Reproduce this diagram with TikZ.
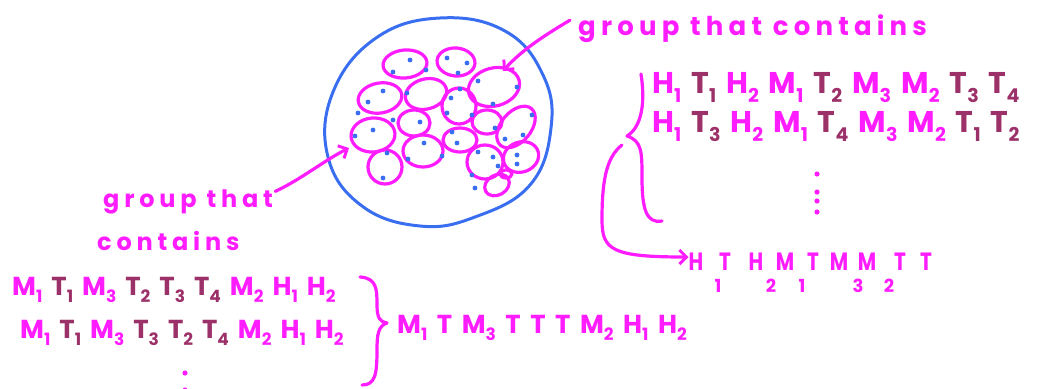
\documentclass[tikz,border=0pt]{standalone}
\usepackage{fontspec}
\setmainfont{Poppins}
\usetikzlibrary{arrows.meta}
\definecolor{InkPink}{HTML}{FF1CFF}
\definecolor{InkPlum}{HTML}{9C3068}
\definecolor{InkBlue}{HTML}{3A6EF0}
% one letter with its index
\newcommand\tok[3]{\textcolor{#1}{#2\raisebox{-0.3em}{\subsize #3}}\hspace{\tokgap}}

\begin{document}
\begin{tikzpicture}[x=1pt, y=-1pt,
    ink/.style={draw=InkPink, line width=3.2pt, line cap=round, line join=round},
    arr/.style={ink, -{Straight Barb[length=7pt, width=14pt, line width=3pt]}},
    bag/.style={draw=InkBlue, line width=3pt},
    dot/.style={fill=InkBlue, draw=none},
    note/.style={text=InkPink, font=\fontsize{24}{24}\selectfont\bfseries\addfontfeatures{LetterSpace=20}, inner sep=0pt, anchor=base west},
    seq/.style={font=\fontsize{30}{30}\selectfont\bfseries\def\subsize{\fontsize{19}{19}\selectfont}\def\tokgap{10pt}, inner sep=0pt, anchor=base west},
    seqs/.style={font=\fontsize{26}{26}\selectfont\bfseries\def\subsize{\fontsize{17}{17}\selectfont}\def\tokgap{9pt}, inner sep=0pt, anchor=base west},
    lone/.style={text=InkPink, font=\fontsize{25}{25}\selectfont\bfseries, inner sep=0pt, anchor=base},
    sub/.style={text=InkPink, font=\fontsize{18}{18}\selectfont\bfseries, inner sep=0pt, anchor=base}
]
  \useasboundingbox (0,0) rectangle (1043,388);

  % the big group
  \draw[bag] plot[smooth cycle, tension=0.7] coordinates {(440,18) (505,31) (543,75)
      (551,128) (530,185) (475,217) (420,226) (362,206) (328,157) (333,92) (376,38)};
  \foreach \cx/\cy/\rx/\ry/\a in {405/64/22/14/5, 456/62/19/14/-5, 494/87/26/19/15,
      380/98/22/15/10, 426/94/21/15/15, 459/106/17/18/0, 414/123/16/13/0,
      373/135/22/17/5, 487/122/15/12/0, 516/127/24/15/50, 460/140/17/12/0,
      423/151/20/16/0, 385/167/17/17/0, 485/162/18/17/0, 521/157/18/15/20,
      497/185/13/10/30, 506/174/6/4/0}
    \draw[ink, rotate around={\a:(\cx,\cy)}] (\cx,\cy) ellipse [x radius=\rx pt, y radius=\ry pt];
  \foreach \x/\y in {410/60, 393/72, 426/70, 447/58, 467/63, 458/73, 478/81, 517/87,
      493/104, 383/91, 368/102, 407/93, 358/113, 393/120, 373/130, 355/136, 420/122,
      451/98, 460/89, 447/113, 472/115, 495/128, 532/115, 523/135, 505/139, 452/132,
      457/143, 424/143, 442/156, 408/159, 387/153, 383/178, 478/152, 493/157, 517/155,
      517/164, 498/166, 472/175, 475/188}
    \fill[dot] (\x,\y) circle (2.4pt);

  % labels
  \node[note, font=\fontsize{26}{26}\selectfont\bfseries\addfontfeatures{LetterSpace=20}] (grouptop) at (578,35) {group that contains};
  \node[note] (grouplow) at (103,207) {group that};
  \node[note] (grouplowb) at (97,250) {contains};
  \coordinate (tiptop) at (503,71);
  \coordinate (tiplow) at (349,148);
  \draw[arr] (grouptop.west) ++(-8,-8) .. controls (540,38) and (520,52) .. (tiptop);
  \draw[arr] (grouplow.east) ++(2,-10) .. controls (300,180) and (325,160) .. (tiplow);

  % orderings on the right
  \node[seq] (ordA) at (652,93) {\tok{InkPink}{H}{1}\tok{InkPlum}{T}{1}\tok{InkPink}{H}{2}\tok{InkPink}{M}{1}\tok{InkPlum}{T}{2}\tok{InkPink}{M}{3}\tok{InkPink}{M}{2}\tok{InkPlum}{T}{3}\tok{InkPlum}{T}{4}};
  \node[seq] (ordB) at (652,132) {\tok{InkPink}{H}{1}\tok{InkPlum}{T}{3}\tok{InkPink}{H}{2}\tok{InkPink}{M}{1}\tok{InkPlum}{T}{4}\tok{InkPink}{M}{3}\tok{InkPink}{M}{2}\tok{InkPlum}{T}{1}\tok{InkPlum}{T}{2}};
  \foreach \y in {174,192,201,212}
    \fill[InkPink] (817,\y) circle (2.6pt);
  \draw[ink] (641,74) .. controls (645,100) and (643,126) .. (627,136)
    .. controls (642,141) and (642,152) .. (642,178)
    .. controls (642,208) and (646,224) .. (662,221);
  \coordinate (brtip) at (622,145);
  \foreach \x/\l [count=\i] in {696/H, 725/T, 756/H, 785/M, 813/T, 839/M, 867/M, 900/T, 926/T}
    \node[lone] (mrg\i) at (\x,270) {\scalebox{0.8}[1]{\l}};
  \foreach \x/\n [count=\i] in {718/1, 771/2, 802/1, 858/3, 889/2}
    \node[sub] (mrgsub\i) at (\x,292) {\n};
  \draw[arr] (brtip) .. controls (605,158) and (602,185) .. (602,220)
    .. controls (602,250) and (612,257) .. (mrg1.west |- 0,257);

  % orderings on the left
  \node[seqs] (ordC) at (12,295) {\tok{InkPink}{M}{1}\tok{InkPlum}{T}{1}\tok{InkPink}{M}{3}\tok{InkPlum}{T}{2}\tok{InkPlum}{T}{3}\tok{InkPlum}{T}{4}\tok{InkPink}{M}{2}\tok{InkPink}{H}{1}\tok{InkPink}{H}{2}};
  \node[seqs] (ordD) at (20,338) {\tok{InkPink}{M}{1}\tok{InkPlum}{T}{1}\tok{InkPink}{M}{3}\tok{InkPlum}{T}{3}\tok{InkPlum}{T}{2}\tok{InkPlum}{T}{4}\tok{InkPink}{M}{2}\tok{InkPink}{H}{1}\tok{InkPink}{H}{2}};
  \fill[InkPink] (185,373) circle (2.6pt);
  \fill[InkPink] (185,390) circle (2.6pt);
  \draw[ink] (360,277) .. controls (377,278) and (377,290) .. (377,305)
    .. controls (377,318) and (380,322) .. (387,323)
    .. controls (378,326) and (377,335) .. (377,350)
    .. controls (377,375) and (375,385) .. (362,385);
  \node[seqs, font=\fontsize{26}{26}\selectfont\bfseries\def\subsize{\fontsize{17}{17}\selectfont}\def\tokgap{9.5pt}] (ordE) at (397,333) {\tok{InkPink}{M}{1}\tok{InkPink}{T}{}\tok{InkPink}{M}{3}\tok{InkPink}{T}{}\tok{InkPink}{T}{}\tok{InkPink}{T}{}\tok{InkPink}{M}{2}\tok{InkPink}{H}{1}\tok{InkPink}{H}{2}};
\end{tikzpicture}
\end{document}
